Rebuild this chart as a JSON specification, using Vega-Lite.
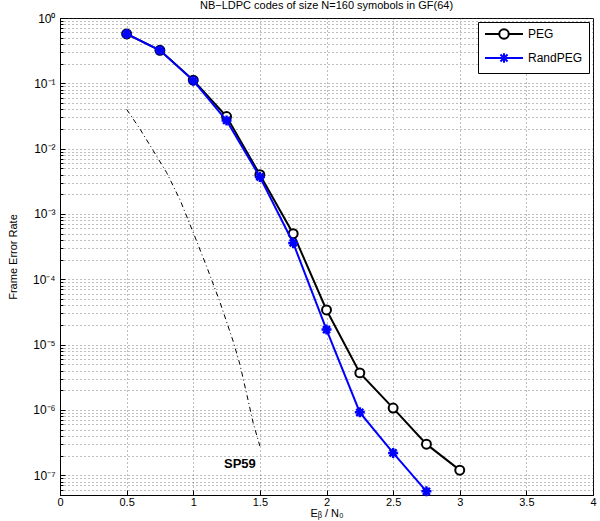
{
  "$schema": "https://vega.github.io/schema/vega-lite/v6.json",
  "width": 533,
  "height": 477,
  "autosize": {"type": "none"},
  "padding": {"left": 60, "top": 18, "right": 7, "bottom": 26},
  "background": "white",
  "title": {"text": "NB−LDPC codes of size N=160 symobols in GF(64)", "font": "Liberation Sans", "fontSize": 11, "fontWeight": "normal", "color": "black", "offset": 1},
  "config": {
    "view": {"stroke": "black", "strokeWidth": 1},
    "axis": {"labelFont": "Liberation Sans", "titleFont": "Liberation Sans", "labelColor": "black", "titleColor": "black", "labelFontSize": 11, "titleFontSize": 11, "titleFontWeight": "normal", "domainColor": "black", "tickColor": "black", "gridColor": "#444", "gridOpacity": 0.7, "gridDash": [1, 3], "gridWidth": 1}
  },
  "data": {"values": [
    {"series": "PEG", "x": 0.5, "y": 0.57},
    {"series": "PEG", "x": 0.75, "y": 0.32},
    {"series": "PEG", "x": 1.0, "y": 0.112},
    {"series": "PEG", "x": 1.25, "y": 0.031},
    {"series": "PEG", "x": 1.5, "y": 0.0040},
    {"series": "PEG", "x": 1.75, "y": 0.00050},
    {"series": "PEG", "x": 2.0, "y": 0.000034},
    {"series": "PEG", "x": 2.25, "y": 0.0000037},
    {"series": "PEG", "x": 2.5, "y": 0.00000107},
    {"series": "PEG", "x": 2.75, "y": 0.00000030},
    {"series": "PEG", "x": 3.0, "y": 0.00000012},
    {"series": "RandPEG", "x": 0.5, "y": 0.57},
    {"series": "RandPEG", "x": 0.75, "y": 0.32},
    {"series": "RandPEG", "x": 1.0, "y": 0.11},
    {"series": "RandPEG", "x": 1.25, "y": 0.027},
    {"series": "RandPEG", "x": 1.5, "y": 0.0037},
    {"series": "RandPEG", "x": 1.75, "y": 0.00036},
    {"series": "RandPEG", "x": 2.0, "y": 0.000017},
    {"series": "RandPEG", "x": 2.25, "y": 0.00000092},
    {"series": "RandPEG", "x": 2.5, "y": 0.00000022},
    {"series": "RandPEG", "x": 2.75, "y": 0.000000057},
    {"series": "SP59", "x": 0.5, "y": 0.040},
    {"series": "SP59", "x": 0.6, "y": 0.020},
    {"series": "SP59", "x": 0.7, "y": 0.0093},
    {"series": "SP59", "x": 0.8, "y": 0.0043},
    {"series": "SP59", "x": 0.9, "y": 0.00166},
    {"series": "SP59", "x": 1.0, "y": 0.00052},
    {"series": "SP59", "x": 1.1, "y": 0.000158},
    {"series": "SP59", "x": 1.2, "y": 0.000045},
    {"series": "SP59", "x": 1.3, "y": 0.0000112},
    {"series": "SP59", "x": 1.35, "y": 0.000005},
    {"series": "SP59", "x": 1.4, "y": 0.0000018},
    {"series": "SP59", "x": 1.45, "y": 0.00000063},
    {"series": "SP59", "x": 1.5, "y": 0.00000028},
    {"series": "label", "x": 1.35, "y": 0.00000015, "text": "SP59"}
  ]},
  "encoding": {
    "x": {"field": "x", "type": "quantitative", "scale": {"domain": [0, 4], "nice": false, "zero": false},
      "axis": {"values": [0, 0.5, 1, 1.5, 2, 2.5, 3, 3.5, 4], "labelExpr": "'' + datum.value", "title": "Eᵦ / N₀", "titlePadding": 0, "tickSize": -5, "labelPadding": 6, "grid": true, "labelFlush": false}},
    "y": {"field": "y", "type": "quantitative", "scale": {"type": "log", "domain": [0.00000005, 1], "nice": false, "zero": false},
      "axis": {
        "values": [0.00000005, 0.00000006, 0.00000007, 0.00000008, 0.00000009,
          0.0000001, 0.0000002, 0.0000003, 0.0000004, 0.0000005, 0.0000006, 0.0000007, 0.0000008, 0.0000009,
          0.000001, 0.000002, 0.000003, 0.000004, 0.000005, 0.000006, 0.000007, 0.000008, 0.000009,
          0.00001, 0.00002, 0.00003, 0.00004, 0.00005, 0.00006, 0.00007, 0.00008, 0.00009,
          0.0001, 0.0002, 0.0003, 0.0004, 0.0005, 0.0006, 0.0007, 0.0008, 0.0009,
          0.001, 0.002, 0.003, 0.004, 0.005, 0.006, 0.007, 0.008, 0.009,
          0.01, 0.02, 0.03, 0.04, 0.05, 0.06, 0.07, 0.08, 0.09,
          0.1, 0.2, 0.3, 0.4, 0.5, 0.6, 0.7, 0.8, 0.9, 1],
        "labelExpr": "abs(log(datum.value)/LN10 - round(log(datum.value)/LN10)) < 0.001 ? '10' + (round(log(datum.value)/LN10) < 0 ? '⁻' : '') + ['⁰','¹','²','³','⁴','⁵','⁶','⁷','⁸','⁹'][abs(round(log(datum.value)/LN10))] : ''",
        "title": "Frame Error Rate", "titlePadding": 14, "labelPadding": 10, "labelFontSize": 12,
        "tickSize": {"condition": {"test": "abs(log(datum.value)/LN10 - round(log(datum.value)/LN10)) < 0.001", "value": -5}, "value": -3},
        "grid": true, "labelFlush": false, "labelOverlap": false}}
  },
  "layer": [
    {"transform": [{"filter": "datum.series === 'SP59'"}],
     "mark": {"type": "line", "color": "black", "strokeWidth": 1, "strokeDash": [5, 3, 1, 3]}},
    {"transform": [{"filter": "datum.series === 'PEG'"}],
     "mark": {"type": "line", "strokeWidth": 2},
     "encoding": {"color": {"field": "series", "type": "nominal", "scale": {"domain": ["PEG", "RandPEG"], "range": ["#000000", "#0000ff"]},
       "legend": {"title": null, "orient": "top-right", "offset": 4, "strokeColor": "black", "fillColor": "white", "padding": 6, "rowPadding": 6,
         "labelFont": "Liberation Sans", "labelFontSize": 12, "labelColor": "black", "symbolSize": 90, "symbolStrokeWidth": 2, "symbolOffset": 14, "labelOffset": 18,
         "encode": {"symbols": {"update": {
           "shape": {"signal": "datum.value === 'PEG' ? 'M-4,0L-1,0M1,0L4,0M-1,0A1,1 0 1,1 1,0A1,1 0 1,1 -1,0' : 'M-4,0L4,0M0,-1L0,1M-0.75,-0.75L0.75,0.75M-0.75,0.75L0.75,-0.75'"},
           "stroke": {"signal": "datum.value === 'PEG' ? '#000000' : '#0000ff'"},
           "fill": {"value": "transparent"},
           "strokeWidth": {"value": 2},
           "opacity": {"value": 1}}}}}}}},
    {"transform": [{"filter": "datum.series === 'PEG'"}],
     "mark": {"type": "point", "shape": "circle", "filled": false, "fill": "white", "fillOpacity": 1, "size": 80, "strokeWidth": 2, "opacity": 1},
     "encoding": {"color": {"field": "series", "type": "nominal"}}},
    {"transform": [{"filter": "datum.series === 'RandPEG'"}],
     "mark": {"type": "line", "strokeWidth": 2},
     "encoding": {"color": {"field": "series", "type": "nominal"}}},
    {"transform": [{"filter": "datum.series === 'RandPEG'"}],
     "mark": {"type": "point", "shape": "M0,-1L0,1M-1,0L1,0M-0.7,-0.7L0.7,0.7M-0.7,0.7L0.7,-0.7", "filled": false, "size": 100, "strokeWidth": 2.5, "opacity": 1},
     "encoding": {"color": {"field": "series", "type": "nominal"}}},
    {"transform": [{"filter": "datum.series === 'label'"}],
     "mark": {"type": "text", "font": "Liberation Sans", "fontSize": 13, "fontWeight": "bold", "color": "black", "align": "center", "baseline": "middle"},
     "encoding": {"text": {"field": "text"}}}
  ]
}
